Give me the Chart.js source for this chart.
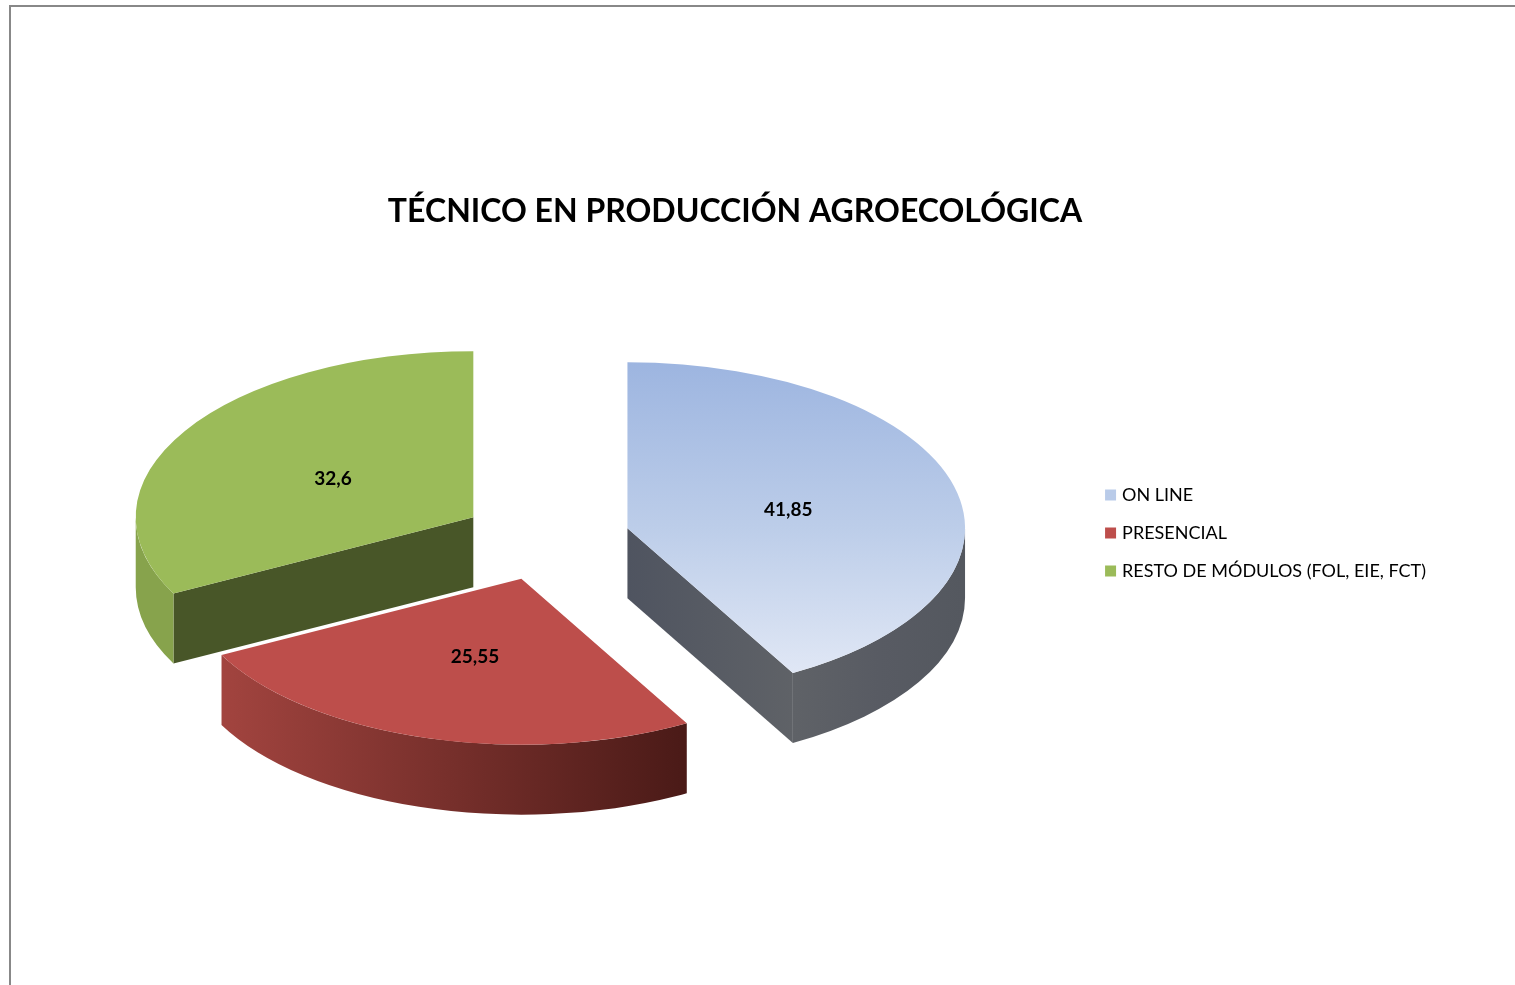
<!DOCTYPE html>
<html><head><meta charset="utf-8">
<style>
html,body{margin:0;padding:0;background:#fff;overflow:hidden}
#frame{position:absolute;left:9px;top:5px;width:1506px;height:980px;border-top:2px solid #888;border-left:2px solid #888;box-sizing:border-box}
canvas{position:absolute;left:34px;top:7px}
</style>
<script src="https://cdn.jsdelivr.net/npm/chart.js@4/dist/chart.umd.min.js"></script>
</head><body>
<div id="frame"></div>
<canvas id="c" width="1422" height="978"></canvas>
<script>
const chartTitle = 'TÉCNICO EN PRODUCCIÓN AGROECOLÓGICA';
const categories = ['ON LINE', 'PRESENCIAL', 'RESTO DE MÓDULOS (FOL, EIE, FCT)'];
const values = [41.85, 25.55, 32.6];
const topColors = ['#b9cbe9', '#bd4e4b', '#9bbb59'];

// 3D look (style only): the library's pie is tilted and extruded in a plugin
const CANVAS_LEFT = 34, CANVAS_TOP = 7;
const PIE = {cx: 545.6 - CANVAS_LEFT, cy: 538.8 - CANVAS_TOP, rx: 337.6, ry: 166, depth: 70, explode: 84.6};
const labelNudge = [[4, 2], [0, 2], [-2, 3]];
const LEGEND_SHIFT = 121;
const wallStops = [
  [[0, '#5f6267'], [0.5, '#585b63'], [1, '#54585f']],
  [[0, '#a2443f'], [1, '#4a1a17']],
  [[0, '#87a34c'], [1, '#87a34c']]
];
const faceStops = [
  [[0, '#4f5460'], [1, '#5f6267']],
  [[0, '#7a2c28'], [1, '#7a2c28']],
  [[0, '#485628'], [1, '#485628']]
];

function blueGradient(chart) {
  const a = chart.chartArea, ctx = chart.ctx;
  const my = (a.top + a.bottom) / 2, R = Math.min(a.right - a.left, a.bottom - a.top) / 2;
  const g = ctx.createLinearGradient(0, my - R, 0, my + 0.87 * R);
  g.addColorStop(0, '#9db5e0');
  g.addColorStop(0.53, '#bccde9');
  g.addColorStop(1, '#e0e7f5');
  return g;
}

function hGrad(ctx, x0, x1, stops) {
  const g = ctx.createLinearGradient(x0, 0, x1, 0);
  stops.forEach(s => g.addColorStop(s[0], s[1]));
  return g;
}

function sliceCentre(el) {
  const mid = (el.startAngle + el.endAngle) / 2;
  return {
    x: PIE.cx + Math.cos(mid) * PIE.explode,
    y: PIE.cy + Math.sin(mid) * PIE.explode * PIE.ry / PIE.rx
  };
}

function drawWalls(ctx, el, i, c) {
  const {rx, ry, depth} = PIE;
  const pt = a => ({x: c.x + rx * Math.cos(a), y: c.y + ry * Math.sin(a)});
  const TWO = Math.PI * 2;
  // radial cut faces
  [[el.startAngle, Math.cos(el.startAngle) < 0], [el.endAngle, Math.cos(el.endAngle) > 0]].forEach(([a, show]) => {
    if (!show) return;
    const p = pt(a);
    ctx.beginPath();
    ctx.moveTo(c.x, c.y); ctx.lineTo(p.x, p.y); ctx.lineTo(p.x, p.y + depth); ctx.lineTo(c.x, c.y + depth);
    ctx.closePath();
    ctx.fillStyle = hGrad(ctx, Math.min(c.x, p.x), Math.max(c.x, p.x), faceStops[i]);
    ctx.fill();
  });
  // outer wall: front half of the rim only
  for (let k = -1; k <= 1; k++) {
    const from = Math.max(el.startAngle, k * TWO), to = Math.min(el.endAngle, k * TWO + Math.PI);
    if (to <= from) continue;
    const a = pt(from), b = pt(to);
    ctx.beginPath();
    ctx.ellipse(c.x, c.y, rx, ry, 0, from, to);
    ctx.lineTo(b.x, b.y + depth);
    ctx.ellipse(c.x, c.y + depth, rx, ry, 0, to, from, true);
    ctx.closePath();
    ctx.fillStyle = hGrad(ctx, Math.min(a.x, b.x), Math.max(a.x, b.x), wallStops[i]);
    ctx.fill();
  }
}

const tiltPlugin = {
  id: 'tilt',
  afterLayout(chart) {
    chart.legend.top += LEGEND_SHIFT;
    chart.legend.bottom += LEGEND_SHIFT;
  },
  beforeDatasetDraw(chart, args) {
    const ctx = chart.ctx, els = args.meta.data;
    for (let i = els.length - 1; i >= 0; i--) {
      const el = els[i], c = sliceCentre(el);
      drawWalls(ctx, el, i, c);
      ctx.save();
      ctx.translate(c.x, c.y);
      ctx.scale(PIE.rx / el.outerRadius, PIE.ry / el.outerRadius);
      ctx.translate(-el.x, -el.y);
      el.draw(ctx, chart.chartArea);
      ctx.restore();
    }
    return false;
  },
  afterDatasetsDraw(chart) {
    const ctx = chart.ctx, els = chart.getDatasetMeta(0).data;
    ctx.save();
    ctx.font = 'bold 19px Lato';
    ctx.fillStyle = '#000';
    ctx.textAlign = 'center';
    ctx.textBaseline = 'middle';
    els.forEach((el, i) => {
      const c = sliceCentre(el), mid = (el.startAngle + el.endAngle) / 2;
      ctx.fillText(String(values[i]).replace('.', ','),
        c.x + Math.cos(mid) * PIE.rx * 0.48 + labelNudge[i][0],
        c.y + Math.sin(mid) * PIE.ry * 0.48 + labelNudge[i][1]);
    });
    ctx.restore();
  }
};

new Chart(document.getElementById('c'), {
  type: 'pie',
  data: {
    labels: categories,
    datasets: [{
      data: values,
      borderWidth: 0,
      backgroundColor: c => c.dataIndex === 0 ? blueGradient(c.chart) : topColors[c.dataIndex]
    }]
  },
  plugins: [tiltPlugin],
  options: {
    responsive: false,
    animation: false,
    layout: {padding: {right: 20, bottom: 168}},
    plugins: {
      tooltip: {enabled: false},
      title: {
        display: true,
        text: chartTitle,
        color: '#000',
        font: {family: 'Lato', size: 32, weight: 'bold', lineHeight: 1.2},
        padding: {top: 185, bottom: 18}
      },
      legend: {
        display: true,
        position: 'right',
        align: 'center',
        labels: {
          font: {family: 'Lato', size: 18},
          color: '#222',
          boxWidth: 5,
          boxHeight: 5,
          padding: 20,
          generateLabels: () => categories.map((t, i) => ({
            text: t, fillStyle: topColors[i], strokeStyle: topColors[i], lineWidth: 6, index: i, hidden: false
          }))
        }
      }
    }
  }
});
</script>
</body></html>
